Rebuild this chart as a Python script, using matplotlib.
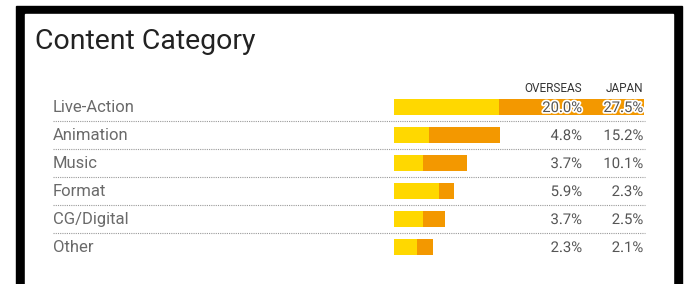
import matplotlib.pyplot as plt
import matplotlib.patheffects as pe
from matplotlib.patches import Rectangle
from matplotlib.transforms import blended_transform_factory

plt.rcParams['font.family'] = ['Roboto', 'DejaVu Sans']

categories = ['Live-Action', 'Animation', 'Music', 'Format', 'CG/Digital', 'Other']
# bar lengths as drawn (same scale for both parts)
overseas_bar = [20.0, 6.7, 5.5, 8.5, 5.5, 4.4]
japan_bar = [27.5, 13.4, 8.4, 2.9, 4.2, 3.0]
# printed shares
overseas_pct = [20.0, 4.8, 3.7, 5.9, 3.7, 2.3]
japan_pct = [27.5, 15.2, 10.1, 2.3, 2.5, 2.1]

YELLOW = '#FFD800'
ORANGE = '#F39800'
W, H = 696, 284

fig = plt.figure(figsize=(W / 100, H / 100), dpi=100)

# black frame, open at the bottom
fig.patches.append(Rectangle((16 / W, 0), (682 - 16) / W, 1 - 6 / H,
                             transform=fig.transFigure, color='black', zorder=-2))
fig.patches.append(Rectangle((25 / W, 0), (673 - 25) / W, 1 - 14 / H,
                             transform=fig.transFigure, color='white', zorder=-1))

fig.text(35 / W, 1 - 49 / H, 'Content Category', fontsize=20.5,
         color='#222222', va='baseline', ha='left')

ax = fig.add_axes([394 / W, 1 - 260.7 / H, 250 / W, 168 / H])
ax.set_xlim(0, 47.5)
ax.set_ylim(5.5, -0.5)
ax.axis('off')

rows = range(len(categories))
ax.barh(rows, overseas_bar, height=0.57, color=YELLOW, linewidth=0)
ax.barh(rows, japan_bar, left=overseas_bar, height=0.57, color=ORANGE, linewidth=0)

tr = blended_transform_factory(ax.transAxes, ax.transData)
px = lambda x: (x - 394) / 250

stroke = [pe.withStroke(linewidth=2.5, foreground='white')]
for i, cat in enumerate(categories):
    ax.text(px(53), i + 0.19, cat, transform=tr, fontsize=12,
            color='#6a6a6a', va='baseline', ha='left')
    ax.text(px(582), i + 0.19, f'{overseas_pct[i]:.1f}%', transform=tr,
            fontsize=10.7, color='#555555', va='baseline', ha='right',
            path_effects=stroke)
    ax.text(px(643), i + 0.19, f'{japan_pct[i]:.1f}%', transform=tr,
            fontsize=10.7, color='#555555', va='baseline', ha='right',
            path_effects=stroke)
    if i < len(categories) - 1:
        ax.plot([px(53), px(645)], [i + 0.5, i + 0.5], transform=tr,
                color='#999999', linestyle=(0, (1, 1)), linewidth=0.8,
                clip_on=False)

ax.text(px(582), -0.53, 'OVERSEAS', transform=tr, fontsize=8.5,
        color='#333333', va='baseline', ha='right')
ax.text(px(643), -0.53, 'JAPAN', transform=tr, fontsize=8.5,
        color='#333333', va='baseline', ha='right')

fig.savefig('out.png', dpi=100)
